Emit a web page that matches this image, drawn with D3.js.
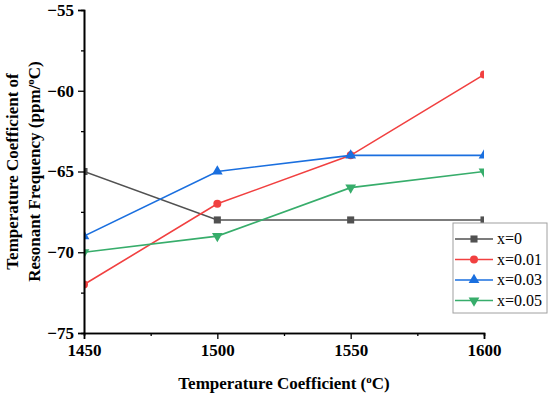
<!DOCTYPE html>
<html lang="en">
<head>
    <title>Temperature Coefficient chart</title>
    <script src='https://d3js.org/d3.v7.min.js'></script>
    <style>
        body { margin: 0; background: #fff; }
        text { font-family: "Liberation Serif", "Times New Roman", serif; }
    </style>
</head>
<body>
    <script>
        // data
        var temps = [1450, 1500, 1550, 1600];
        var s0 = [-65, -68, -68, -68];
        var s1 = [-72, -67, -64, -59];
        var s3 = [-69, -65, -64, -64];
        var s5 = [-70, -69, -66, -65];
        var names = ["x=0", "x=0.01", "x=0.03", "x=0.05"];
        var xTicks = [1450, 1500, 1550, 1600];
        var yTicks = [-55, -60, -65, -70, -75];

        var series = [s0, s1, s3, s5];
        var colors = ["#515151", "#F14040", "#1A6FDF", "#37AD6B"];
        var symbols = [d3.symbolSquare, d3.symbolCircle, d3.symbolTriangle, "down"];

        var width = 550, height = 394;
        // note: "top" is reserved on window, so use plot* names
        var plotL = 84, plotR = 484, plotT = 10, plotB = 333;

        var svg = d3.select("body").append("svg")
            .attr("width", width)
            .attr("height", height);

        var x = d3.scaleLinear().domain([1450, 1600]).range([plotL, plotR]);
        var y = d3.scaleLinear().domain([-75, -55]).range([plotB, plotT]);

        // clip so the end markers get cut in half like the original
        svg.append("clipPath").attr("id", "clip")
            .append("rect")
            .attr("x", plotL).attr("y", plotT)
            .attr("width", plotR - plotL).attr("height", plotB - plotT);

        function markerPath(sym, size) {
            if (sym == "down") {
                return d3.symbol().type(d3.symbolTriangle).size(size)();
            }
            return d3.symbol().type(sym).size(size)();
        }
        function markerRotate(sym) {
            return sym == "down" ? " rotate(180)" : "";
        }

        var plot = svg.append("g").attr("clip-path", "url(#clip)");
        var line = d3.line()
            .x(function(d, i) { return x(temps[i]); })
            .y(function(d) { return y(d); });

        series.forEach(function(s, k) {
            plot.append("path")
                .attr("d", line(s))
                .attr("fill", "none")
                .attr("stroke", colors[k])
                .attr("stroke-width", 1.6);
            plot.selectAll(null)
                .data(s)
                .enter()
                .append("path")
                .attr("d", markerPath(symbols[k], 50))
                .attr("transform", function(d, i) {
                    return "translate(" + x(temps[i]) + "," + y(d) + ")" + markerRotate(symbols[k]);
                })
                .attr("fill", colors[k]);
        });

        // axes
        var xAxis = d3.axisBottom(x).tickValues(xTicks).tickSize(6).tickPadding(5)
            .tickFormat(d3.format("d"));
        var gx = svg.append("g")
            .attr("transform", "translate(0," + plotB + ")")
            .call(xAxis);
        var gxMinor = svg.append("g")
            .attr("transform", "translate(0," + plotB + ")")
            .call(d3.axisBottom(x).tickValues([1475, 1525, 1575]).tickSize(3).tickFormat(""));

        var yAxis = d3.axisLeft(y).tickValues(yTicks).tickSize(6).tickPadding(4)
            .tickFormat(function(d) { return "\u2212" + Math.abs(d); });
        var gy = svg.append("g")
            .attr("transform", "translate(" + plotL + ",0)")
            .call(yAxis);
        var gyMinor = svg.append("g")
            .attr("transform", "translate(" + plotL + ",0)")
            .call(d3.axisLeft(y).tickValues([-57.5, -62.5, -67.5, -72.5]).tickSize(3).tickFormat(""));

        [gx, gxMinor, gy, gyMinor].forEach(function(g) {
            g.selectAll(".domain").attr("stroke", "#000").attr("stroke-width", 1.6);
            g.selectAll(".tick line").attr("stroke", "#000").attr("stroke-width", 1.3);
        });
        gx.selectAll("text").attr("font-size", 17).attr("font-weight", "bold")
            .attr("fill", "#000").style("font-family", "Liberation Serif");
        gy.selectAll("text").attr("font-size", 17).attr("font-weight", "bold")
            .attr("fill", "#000").style("font-family", "Liberation Serif");

        // axis titles
        var xt = svg.append("text")
            .attr("x", (plotL + plotR) / 2)
            .attr("y", 389)
            .attr("text-anchor", "middle")
            .attr("font-size", 17)
            .attr("font-weight", "bold")
            .text("Temperature Coefficient (");
        xt.append("tspan").attr("font-size", 11).attr("dy", -6).text("o");
        xt.append("tspan").attr("dy", 6).text("C)");

        var cy = (plotT + plotB) / 2;
        svg.append("text")
            .attr("transform", "translate(18," + cy + ") rotate(-90)")
            .attr("text-anchor", "middle")
            .attr("font-size", 17)
            .attr("font-weight", "bold")
            .text("Temperature Coefficient of");
        var yt2 = svg.append("text")
            .attr("transform", "translate(40," + cy + ") rotate(-90)")
            .attr("text-anchor", "middle")
            .attr("font-size", 17)
            .attr("font-weight", "bold")
            .text("Resonant Frequency (ppm/");
        yt2.append("tspan").attr("font-size", 11).attr("dy", -6).text("o");
        yt2.append("tspan").attr("dy", 6).text("C)");

        // legend
        var lg = svg.append("g");
        lg.append("rect")
            .attr("x", 453).attr("y", 223)
            .attr("width", 94).attr("height", 90)
            .attr("fill", "#fff")
            .attr("stroke", "#a0a0a0")
            .attr("stroke-width", 1);
        names.forEach(function(n, k) {
            var ly = 239 + k * 20.5;
            lg.append("line")
                .attr("x1", 455).attr("x2", 493)
                .attr("y1", ly).attr("y2", ly)
                .attr("stroke", colors[k]).attr("stroke-width", 1.6);
            lg.append("path")
                .attr("d", markerPath(symbols[k], 50))
                .attr("transform", "translate(474," + ly + ")" + markerRotate(symbols[k]))
                .attr("fill", colors[k]);
            lg.append("text")
                .attr("x", 497).attr("y", ly + 5)
                .attr("font-size", 16)
                .text(n);
        });
    </script>
</body>
</html>
